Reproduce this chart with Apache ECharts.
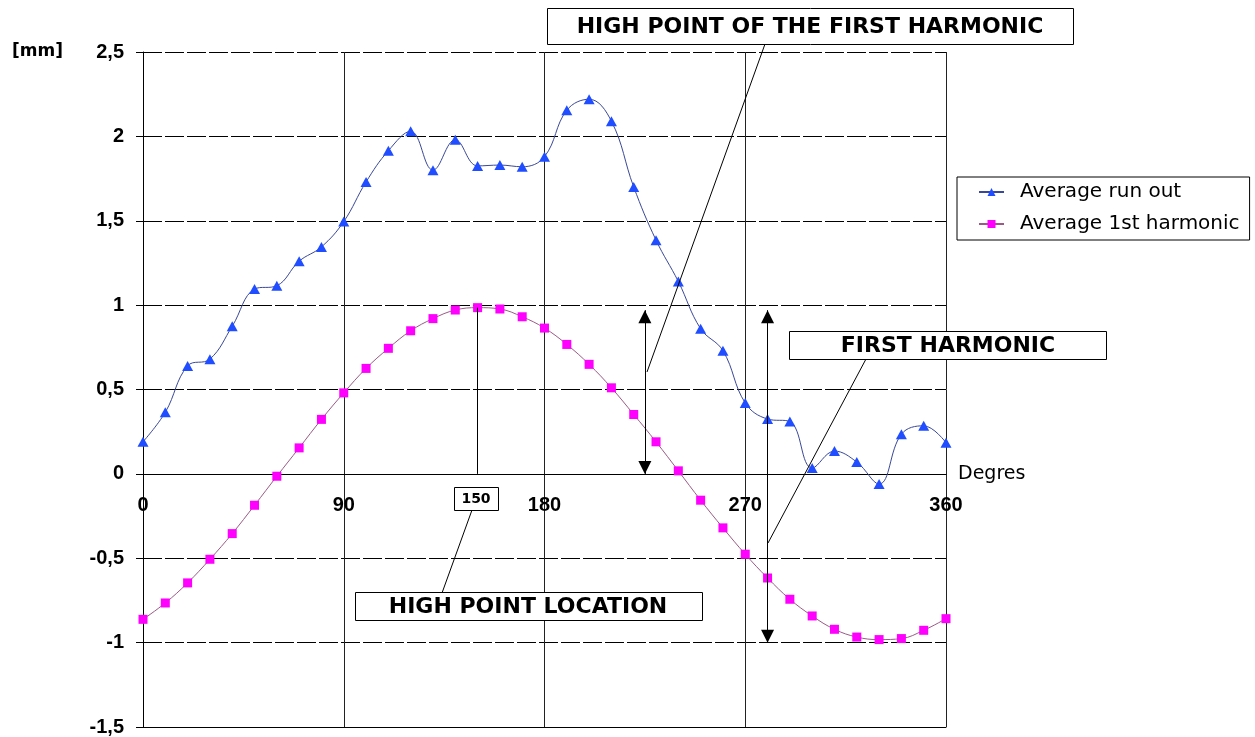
<!DOCTYPE html>
<html><head><meta charset="utf-8">
<script src="https://cdn.jsdelivr.net/npm/echarts@6/dist/echarts.min.js"></script>
<style>html,body{margin:0;padding:0;background:#fff}#c{width:1255px;height:737px}</style>
</head><body><div id="c"></div>
<script>
// ---- data ----
const degrees = [0,10,20,30,40,50,60,70,80,90,100,110,120,130,140,150,160,170,180,190,200,210,220,230,240,250,260,270,280,290,300,310,320,330,340,350,360];
const runOut = [0.19,0.365,0.64,0.68,0.875,1.095,1.115,1.26,1.345,1.495,1.73,1.915,2.03,1.80,1.98,1.825,1.83,1.82,1.88,2.155,2.22,2.09,1.70,1.385,1.14,0.86,0.73,0.42,0.325,0.31,0.035,0.135,0.07,-0.06,0.235,0.285,0.185];
const harmonic = [-0.862,-0.765,-0.646,-0.506,-0.354,-0.186,-0.014,0.154,0.323,0.48,0.625,0.744,0.848,0.92,0.971,0.985,0.977,0.931,0.864,0.767,0.649,0.51,0.352,0.19,0.018,-0.156,-0.32,-0.476,-0.617,-0.743,-0.842,-0.921,-0.967,-0.982,-0.976,-0.927,-0.858];
const seriesNames = ['Average run out','Average 1st harmonic'];
const xTicks = [0,90,180,270,360];
const yTicks = [-1.5,-1,-0.5,0,0.5,1,1.5,2,2.5];
const highPoint = [150, 0.985];          // location and value of harmonic maximum
const amplitudeArrow = [225, 0, 0.97];   // x, from, to
const peakToPeakArrow = [280, -1.0, 0.97];
const annotationTexts = ['HIGH POINT OF THE FIRST HARMONIC','FIRST HARMONIC','HIGH POINT LOCATION','150'];

const pairs = (ys) => degrees.map((d,i)=>[d, ys[i]]);
const NUMFONT = 'Liberation Sans, Arial, sans-serif';
const TXTFONT = 'DejaVu Sans, sans-serif';

// layout of the plot area
const GRID = {left:143, top:52, right:309, bottom:10};
const plotH = 737 - GRID.top - GRID.bottom;
const yMin = yTicks[0], yMax = yTicks[yTicks.length-1];
// move the whole x axis (line + labels) up to the zero line
const xAxisOffset = -plotH * (0 - yMin) / (yMax - yMin);
const ARROW = 13;

const chart = echarts.init(document.getElementById('c'), null, {renderer:'canvas'});
const option = {
  animation:false,
  backgroundColor:'#fff',
  grid:Object.assign({containLabel:false, outerBoundsMode:'none'}, GRID),
  legend:{
    orient:'vertical', left:957, top:177,
    padding:[4,10,5,21], itemGap:10,
    itemWidth:25, itemHeight:10,
    borderColor:'#000', borderWidth:1, backgroundColor:'#fff',
    textStyle:{fontFamily:TXTFONT, fontSize:20, color:'#000', lineHeight:22, padding:[0,0,0,11]},
    data:seriesNames
  },
  xAxis:[{
    type:'value', min:xTicks[0], max:xTicks[xTicks.length-1], interval:90,
    position:'bottom', offset:xAxisOffset,
    axisLine:{onZero:false, lineStyle:{color:'#000', width:1}},
    axisTick:{show:false},
    axisLabel:{fontFamily:NUMFONT, fontWeight:'bold', fontSize:20, color:'#000', margin:22},
    splitLine:{show:true, lineStyle:{color:'#222', width:1, type:'solid'}},
    name:'Degres', nameLocation:'end', nameGap:12,
    nameTextStyle:{fontFamily:TXTFONT, fontSize:19, color:'#000'}
  },{
    type:'value', min:xTicks[0], max:xTicks[xTicks.length-1], interval:90,
    position:'bottom', offset:0,
    axisLine:{show:true, onZero:false, lineStyle:{color:'#000', width:1}},
    axisTick:{show:false}, axisLabel:{show:false}, splitLine:{show:false}
  }],
  yAxis:{
    type:'value', min:yMin, max:yMax, interval:0.5,
    axisLine:{show:true, onZero:false, lineStyle:{color:'#000', width:1}},
    axisTick:{show:true, length:7, lineStyle:{color:'#000'}},
    axisLabel:{fontFamily:NUMFONT, fontWeight:'bold', fontSize:20, color:'#000', margin:19,
      formatter:v=>String(v).replace('.',',')},
    splitLine:{show:true, lineStyle:{color:'#000', width:1, type:[19,3]}}
  },
  series:[
    {
      name:seriesNames[0], type:'line', data:pairs(runOut), smooth:0.4,
      symbol:'triangle', symbolSize:[11,10], showSymbol:true,
      itemStyle:{color:'#1f4dff'},
      lineStyle:{color:'#3a4898', width:1}, z:3
    },
    {
      name:seriesNames[1], type:'line', data:pairs(harmonic), smooth:0.4,
      symbol:'rect', symbolSize:9, showSymbol:true,
      itemStyle:{color:'#ff00ff'},
      lineStyle:{color:'#9a5a86', width:1}, z:3,
      markLine:{
        silent:true, animation:false, label:{show:false},
        lineStyle:{color:'#000', width:1, type:'solid'},
        symbolSize:[ARROW,ARROW],
        symbolOffset:[[0,ARROW/2],[0,ARROW/2]],
        data:[
          [{coord:[highPoint[0], highPoint[1]], symbol:'none'},{coord:[highPoint[0],0], symbol:'none'}],
          [{coord:[amplitudeArrow[0], amplitudeArrow[1]], symbol:'triangle'},{coord:[amplitudeArrow[0], amplitudeArrow[2]], symbol:'triangle'}],
          [{coord:[peakToPeakArrow[0], peakToPeakArrow[1]], symbol:'triangle'},{coord:[peakToPeakArrow[0], peakToPeakArrow[2]], symbol:'triangle'}]
        ]
      }
    }
  ],
  graphic:[
    {type:'text', left:12, top:43, style:{text:'[mm]', font:'bold 17px '+TXTFONT, fill:'#000'}},
    // leader lines
    {type:'line', shape:{x1:765, y1:44, x2:647, y2:372}, style:{stroke:'#000', lineWidth:1}, z:10},
    {type:'line', shape:{x1:866, y1:359, x2:768, y2:543}, style:{stroke:'#000', lineWidth:1}, z:10},
    {type:'line', shape:{x1:472, y1:510, x2:442, y2:593}, style:{stroke:'#000', lineWidth:1}, z:10},
    // boxes
    {type:'rect', shape:{x:547.5, y:8.5, width:526, height:36}, style:{fill:'#fff', stroke:'#000', lineWidth:1}, z:11},
    {type:'text', x:810, y:27, style:{text:annotationTexts[0], font:'bold 22px '+TXTFONT, fill:'#000', align:'center', verticalAlign:'middle', textAlign:'center', textVerticalAlign:'middle'}, z:12},
    {type:'rect', shape:{x:789.5, y:331.5, width:317, height:28}, style:{fill:'#fff', stroke:'#000', lineWidth:1}, z:11},
    {type:'text', x:948, y:346, style:{text:annotationTexts[1], font:'bold 22px '+TXTFONT, fill:'#000', align:'center', verticalAlign:'middle', textAlign:'center', textVerticalAlign:'middle'}, z:12},
    {type:'rect', shape:{x:355.5, y:592.5, width:347, height:28}, style:{fill:'#fff', stroke:'#000', lineWidth:1}, z:11},
    {type:'text', x:528, y:607, style:{text:annotationTexts[2], font:'bold 22px '+TXTFONT, fill:'#000', align:'center', verticalAlign:'middle', textAlign:'center', textVerticalAlign:'middle'}, z:12},
    {type:'rect', shape:{x:454.5, y:487.5, width:44, height:23}, style:{fill:'#fff', stroke:'#000', lineWidth:1}, z:11},
    {type:'text', x:476, y:499, style:{text:annotationTexts[3], font:'bold 14px '+TXTFONT, fill:'#000', align:'center', verticalAlign:'middle', textAlign:'center', textVerticalAlign:'middle'}, z:12}
  ]
};
chart.setOption(option);
</script></body></html>
